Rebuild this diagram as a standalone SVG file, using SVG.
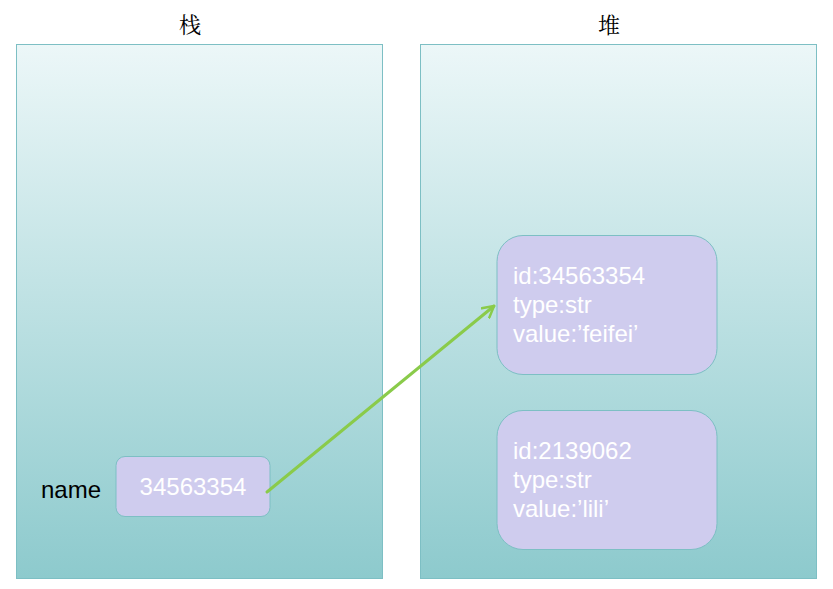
<svg xmlns="http://www.w3.org/2000/svg" width="833" height="589" viewBox="0 0 833 589">
<defs>
<linearGradient id="bg" x1="0" y1="0" x2="0" y2="1">
<stop offset="0" stop-color="#ECF7F8"/>
<stop offset="1" stop-color="#8DCACD"/>
</linearGradient>
<marker id="ah" viewBox="0 0 14 14" refX="12" refY="7" markerWidth="14" markerHeight="14" markerUnits="userSpaceOnUse" orient="auto">
<path d="M1,1 L12,7 L1,13" fill="none" stroke="#8ACB4A" stroke-width="2.5" stroke-linecap="round" stroke-linejoin="round"/>
</marker>
<style>
.panel{fill:url(#bg);stroke:#7DBFC4;stroke-width:1}
.node{fill:#CFCCEE;stroke:#7DBFC4;stroke-width:1}
.title{font-family:"Noto Serif CJK SC","Noto Sans CJK SC",serif;font-size:22px;fill:#000;text-anchor:middle}
.wt{font-family:"Liberation Sans",Arial,sans-serif;font-size:24px;fill:#fff}
.bk{font-family:"Liberation Sans",Arial,sans-serif;font-size:24px;fill:#000}
</style>
</defs>
<g id="stack">
<rect class="panel" x="16.5" y="44.5" width="366" height="534"/>
<text class="title" x="190" y="33">栈</text>
</g>
<g id="heap">
<rect class="panel" x="420.5" y="44.5" width="396" height="534"/>
<text class="title" x="609" y="33">堆</text>
</g>
<g id="name-var">
<text class="bk" x="41" y="498">name</text>
<rect class="node" x="116" y="456.5" width="154" height="60" rx="9"/>
<text class="wt" x="193" y="495" text-anchor="middle">34563354</text>
</g>
<g id="obj1">
<rect class="node" x="497" y="235.5" width="220" height="139" rx="26"/>
<text class="wt" x="513" y="284">id:34563354</text>
<text class="wt" x="513" y="313">type:str</text>
<text class="wt" x="513" y="342">value:’feifei’</text>
</g>
<g id="obj2">
<rect class="node" x="497" y="410.5" width="220" height="139" rx="26"/>
<text class="wt" x="513" y="459">id:2139062</text>
<text class="wt" x="513" y="488">type:str</text>
<text class="wt" x="513" y="517">value:’lili’</text>
</g>
<g id="connectors">
<line x1="267" y1="492" x2="494" y2="306" stroke="#8ACB4A" stroke-width="3" stroke-linecap="round" marker-end="url(#ah)"/>
</g>
</svg>
